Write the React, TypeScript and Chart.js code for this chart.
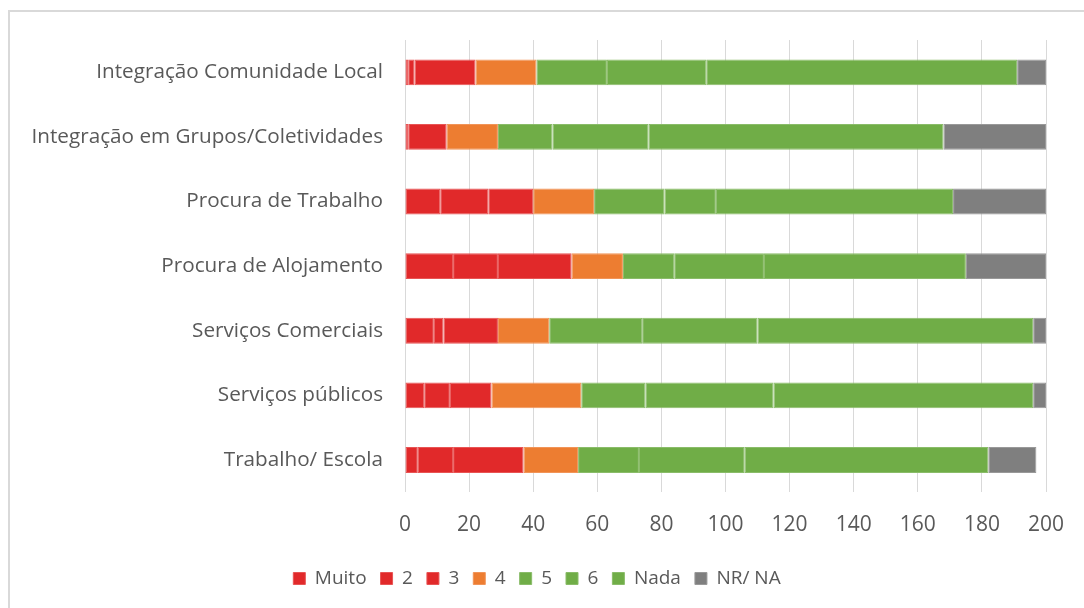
import React, { useEffect, useRef } from "react";
import { Chart, registerables } from "chart.js";

Chart.register(...registerables);

const categories = [
  "Integração Comunidade Local",
  "Integração em Grupos/Coletividades",
  "Procura de Trabalho",
  "Procura de Alojamento",
  "Serviços Comerciais",
  "Serviços públicos",
  "Trabalho/ Escola",
];

const seriesNames = ["Muito", "2", "3", "4", "5", "6", "Nada", "NR/ NA"];
const muito = [1, 1, 11, 15, 9, 6, 4];
const dois = [2, 12, 15, 14, 3, 8, 11];
const tres = [19, 0, 14, 23, 17, 13, 22];
const quatro = [19, 16, 19, 16, 16, 28, 17];
const cinco = [22, 17, 22, 16, 29, 20, 19];
const seis = [31, 30, 16, 28, 36, 40, 33];
const nada = [97, 92, 74, 63, 86, 81, 76];
const nrna = [9, 32, 29, 25, 4, 4, 15];

const xTicks = [0, 20, 40, 60, 80, 100, 120, 140, 160, 180, 200];

const RED = "#e1292a";
const ORANGE = "#ed7d31";
const GREEN = "#70ad47";
const GRAY = "#7f7f7f";
const colors = [RED, RED, RED, ORANGE, GREEN, GREEN, GREEN, GRAY];
const borders = ["#e85454", "#e85454", "#e85454", "#f19458", "#8abc69", "#8abc69", "#8abc69", "#999999"];

const FONT = "Open Sans";

export default function App() {
  const ref = useRef<HTMLCanvasElement | null>(null);
  useEffect(() => {
    document.body.style.overflow = "hidden";
    const all = [muito, dois, tres, quatro, cinco, seis, nada, nrna];
    const chart = new Chart(ref.current!, {
      type: "bar",
      data: {
        labels: categories,
        datasets: all.map((d, i) => ({
          label: seriesNames[i],
          data: d,
          backgroundColor: colors[i],
          borderColor: borders[i],
          borderWidth: 1,
          borderSkipped: false,
          categoryPercentage: 1,
          barPercentage: 0.4,
        })),
      },
      options: {
        indexAxis: "y",
        animation: false,
        responsive: false,
        maintainAspectRatio: false,
        layout: { padding: { left: 8, right: 18, top: 40, bottom: 10 } },
        plugins: {
          tooltip: { enabled: false },
          legend: {
            position: "bottom",
            labels: {
              boxWidth: 12,
              boxHeight: 12,
              padding: 14,
              color: "#595959",
              font: { family: FONT, size: 19 },
            },
          },
        },
        scales: {
          x: {
            stacked: true,
            min: 0,
            max: 200,
            afterBuildTicks: (s: any) => {
              s.ticks = xTicks.map((v) => ({ value: v }));
            },
            afterFit: (s: any) => {
              s.height = s.height - 2.5;
              s.paddingLeft = 0;
              s.paddingRight = 38;
            },
            grid: { color: "#d9d9d9", lineWidth: 1, drawTicks: false },
            border: { display: false },
            ticks: {
              color: "#595959",
              padding: 20,
              font: { family: FONT, size: 21 },
            },
          },
          y: {
            stacked: true,
            grid: { display: false, drawTicks: false },
            border: { display: false },
            afterFit: (s: any) => {
              s.width = 405 - 8;
            },
            ticks: {
              color: "#595959",
              padding: 22,
              font: { family: FONT, size: 20.7 },
            },
          },
        },
      },
    });
    return () => chart.destroy();
  }, []);
  return (
    <div style={{ position: "fixed", left: 0, top: 0, width: 1084, height: 608, background: "#fff", overflow: "hidden" }}>
      <div
        style={{
          position: "absolute",
          left: 8,
          top: 10,
          width: 1200,
          height: 700,
          border: "2px solid #d9d9d9",
          boxSizing: "border-box",
        }}
      />
      <canvas ref={ref} width={1084} height={608} style={{ position: "absolute", left: 0, top: 0 }} />
    </div>
  );
}
